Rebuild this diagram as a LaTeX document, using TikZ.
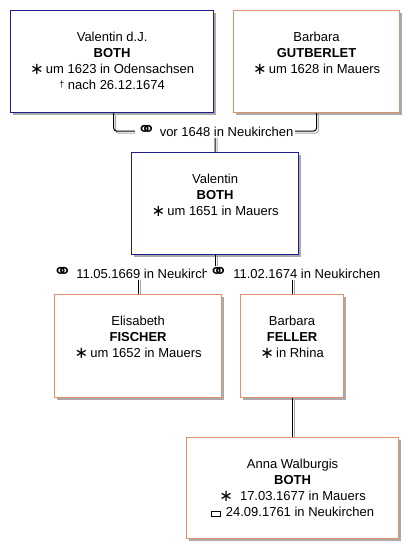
\documentclass[tikz,border=0pt]{standalone}
\usepackage{fontspec}
\setmainfont{Liberation Sans}
\newfontfamily\symfont{DejaVu Sans}
\definecolor{mblue}{HTML}{1E1E8C}
\definecolor{forange}{HTML}{E0906A}
\definecolor{shgray}{RGB}{170,170,170}
\newcommand{\birthsym}{\raisebox{-0.5pt}{\scalebox{1.25}{{\symfont\char"2217}}}}
\newcommand{\marrsym}{\raisebox{-0.5pt}{\scalebox{1.8}[1.6]{{\symfont\char"26AD}}}}
\newcommand{\deathsym}{\raisebox{2.5pt}{\fontsize{9}{9}\selectfont\char"2020}}
\newcommand{\burialsym}{\raisebox{1pt}{\setlength{\fboxsep}{0pt}\setlength{\fboxrule}{0.9pt}\fbox{\rule{0pt}{3.5pt}\rule{8pt}{0pt}}}}
\tikzset{
  pbox/.style={draw, line width=1.2pt, fill=white, anchor=north west, inner sep=0pt},
  malebox/.style={pbox, draw=mblue},
  fembox/.style={pbox, draw=forange},
  boxshadow/.style={fill=shgray},
  ptext/.style={anchor=north, align=center, inner sep=0pt, font=\fontsize{13}{16}\selectfont},
  mlabel/.style={fill=white, inner xsep=1.5pt, inner ysep=1pt, font=\fontsize{13}{16}\selectfont},
  conn/.style={line width=1pt, black, rounded corners=3pt},
  connsh/.style={line width=1pt, draw=shgray, rounded corners=3pt}
}
\begin{document}
\begin{tikzpicture}[x=1pt, y=-1pt]
\fill[white] (0,0) rectangle (419,558);
\useasboundingbox (0,0) rectangle (419,558);
% box shadows
\fill[boxshadow] (13,13) rectangle ++(203,102);
\fill[boxshadow] (236,13) rectangle ++(166,102);
\fill[boxshadow] (134,155) rectangle ++(167,102);
\fill[boxshadow] (57,297) rectangle ++(167,103);
\fill[boxshadow] (243,297) rectangle ++(103,103);
\fill[boxshadow] (189,440) rectangle ++(212,101);
% boxes
\node[malebox, minimum width=203pt, minimum height=102pt] (b1) at (10,10) {};
\node[fembox, minimum width=166pt, minimum height=102pt] (b2) at (233,10) {};
\node[malebox, minimum width=167pt, minimum height=102pt] (b3) at (131,152) {};
\node[fembox, minimum width=167pt, minimum height=103pt] (b4) at (54,294) {};
\node[fembox, minimum width=103pt, minimum height=103pt] (b5) at (240,294) {};
\node[fembox, minimum width=212pt, minimum height=101pt] (b6) at (186,437) {};
% texts
\node[ptext] (t1) at ([yshift=-22pt]b1.north) {Valentin d.J.\\\textbf{BOTH}\\\birthsym\,um 1623 in Odensachsen\\\deathsym\ nach 26.12.1674};
\node[ptext] (t2) at ([yshift=-22pt]b2.north) {Barbara\\\textbf{GUTBERLET}\\\birthsym\,um 1628 in Mauers};
\node[ptext] (t3) at ([yshift=-22pt]b3.north) {Valentin\\\textbf{BOTH}\\\birthsym\,um 1651 in Mauers};
\node[ptext] (t4) at ([yshift=-22pt]b4.north) {Elisabeth\\\textbf{FISCHER}\\\birthsym\,um 1652 in Mauers};
\node[ptext] (t5) at ([yshift=-22pt]b5.north) {Barbara\\\textbf{FELLER}\\\birthsym\,in Rhina};
\node[ptext] (t6) at ([yshift=-22pt]b6.north) {Anna Walburgis\\\textbf{BOTH}\\\birthsym\hspace{7pt}17.03.1677 in Mauers\\\burialsym\hspace{5pt}24.09.1761 in Neukirchen};
% marriage labels
\node[mlabel] (m1) at (215,131) {\marrsym\ vor 1648 in Neukirchen};
\node[mlabel, anchor=west] (m2) at (51,273) {\marrsym\hspace{4pt}11.05.1669 in Neukirch};
\node[mlabel, anchor=west] (m3) at (207,273) {\marrsym\hspace{5pt}11.02.1674 in Neukirchen};
% connector shadows
\draw[connsh] ([shift={(3.5pt,0pt)}]b1.south) |- ([shift={(0pt,-2pt)}]m1.west);
\draw[connsh] ([shift={(0pt,-2pt)}]m1.east) -| ([shift={(2pt,0pt)}]b2.south);
\draw[connsh] ([shift={(2pt,0pt)}]m1.south) -- ([shift={(2pt,0pt)}]b3.north);
\draw[connsh] ([shift={(2pt,0pt)}]b3.south) -- ([shift={(2pt,0pt)}]b3.south |- m3.north);
\draw[connsh] ([shift={(2pt,0pt)}]b4.north |- m2.south) -- ([shift={(2pt,0pt)}]b4.north);
\draw[connsh] ([shift={(2pt,0pt)}]b5.north |- m3.south) -- ([shift={(2pt,0pt)}]b5.north);
\draw[connsh] ([shift={(2pt,0pt)}]b5.south) -- ([shift={(2pt,0pt)}]b5.south |- b6.north);
% connectors
\draw[conn] ([xshift=1.5pt]b1.south) |- (m1.west);
\draw[conn] (m1.east) -| (b2.south);
\draw[conn] (m1.south) -- (b3.north);
\draw[conn] (b3.south) -- (b3.south |- m3.north);
\draw[conn] (b4.north |- m2.south) -- (b4.north);
\draw[conn] (b5.north |- m3.south) -- (b5.north);
\draw[conn] (b5.south) -- (b5.south |- b6.north);
\end{tikzpicture}
\end{document}
